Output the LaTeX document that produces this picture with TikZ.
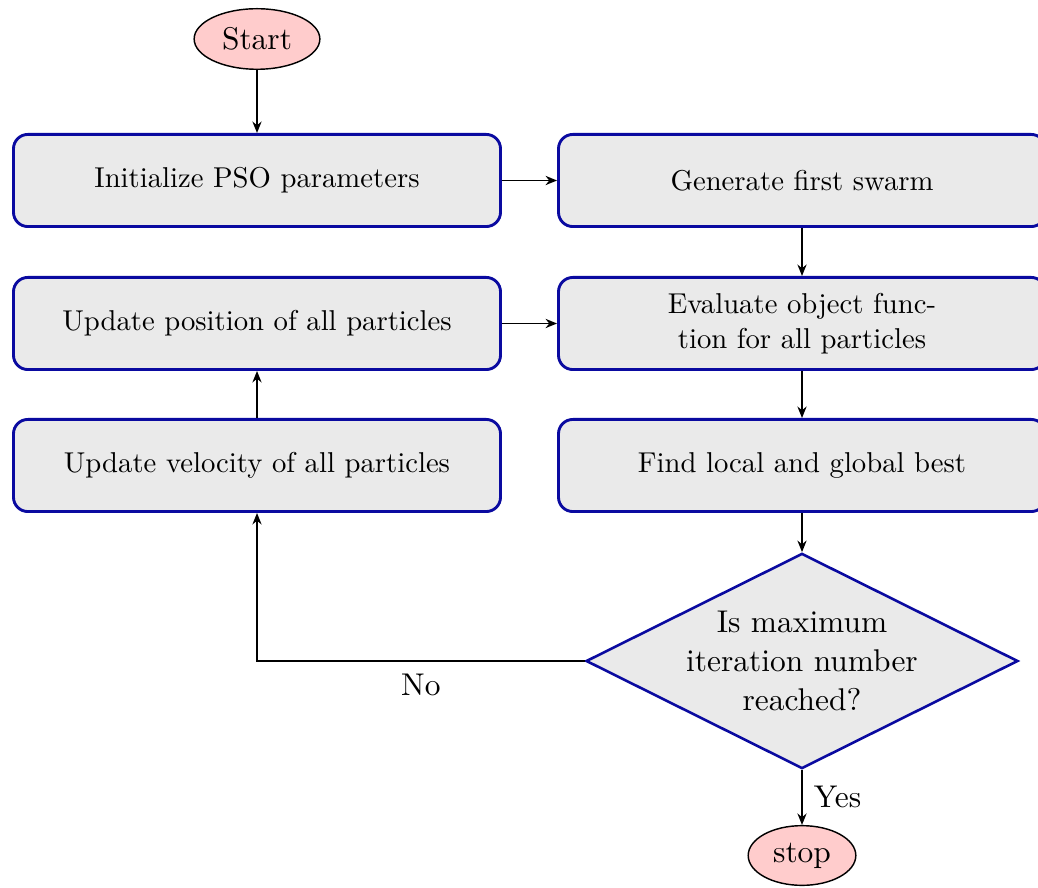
\documentclass[tikz,border=0pt]{standalone}
\usetikzlibrary{shapes.geometric,arrows.meta}

\definecolor{boxfill}{HTML}{EAEAEA}
\definecolor{boxline}{HTML}{0A0AA0}
\definecolor{termfill}{HTML}{FFCCCC}

\tikzset{
  basefont/.style={font=\fontsize{10.95}{13.6}\selectfont},
  terminal/.style={ellipse, draw=black, line width=0.5pt, fill=termfill,
    inner sep=0pt, basefont},
  procbox/.style={rectangle, rounded corners=5pt, draw=boxline, line width=1pt,
    fill=boxfill, minimum width=169.7pt, minimum height=32.1pt, align=center,
    inner sep=0pt, font=\fontsize{10}{12}\selectfont},
  decision/.style={diamond, draw=boxline, line width=0.9pt, fill=boxfill,
    minimum width=150.5pt, minimum height=75pt, inner sep=0pt},
  arr/.style={-{Stealth[length=4pt,width=3.2pt]}, line width=0.6pt},
  edgelabel/.style={basefont}
}

\begin{document}
\begin{tikzpicture}[x=0.34843pt, y=-0.34843pt]
  \useasboundingbox (0,0) rectangle (1038,888);

  % terminals
  \node[terminal, minimum width=43.8pt, minimum height=21.1pt] (start) at (257,39) {Start};
  \node[terminal, minimum width=37.5pt, minimum height=20.8pt] (stop) at (802,855.5) {stop};

  % process steps
  \node[procbox] (init) at (257,180.5) {Initialize PSO parameters};
  \node[procbox] (gen)  at (802,180.5) {Generate first swarm};
  \node[procbox] (pos)  at (257,323.5) {Update position of all particles};
  \node[procbox] (eval) at (802,323.5) {Evaluate object func-\\tion for all particles};
  \node[procbox] (vel)  at (257,465.5) {Update velocity of all particles};
  \node[procbox] (find) at (802,465.5) {Find local and global best};

  % loop test
  \node[decision, label={[align=center, basefont]center:{Is maximum\\iteration number\\reached?}}]
    (dec) at (802,661) {};

  % connectors
  \draw[arr] (start) -- (init);
  \draw[arr] (init) -- (gen);
  \draw[arr] (gen) -- (eval);
  \draw[arr] (eval) -- (find);
  \draw[arr] (find) -- (dec);
  \draw[arr] (vel) -- (pos);
  \draw[arr] (pos) -- (eval);
  \draw[arr] (dec.west) -| node[pos=0.25, below=1pt, edgelabel] {No} (vel.south);
  \draw[arr] (dec.south) -- node[right=0.5pt, edgelabel] {Yes} (stop.north);
\end{tikzpicture}
\end{document}
